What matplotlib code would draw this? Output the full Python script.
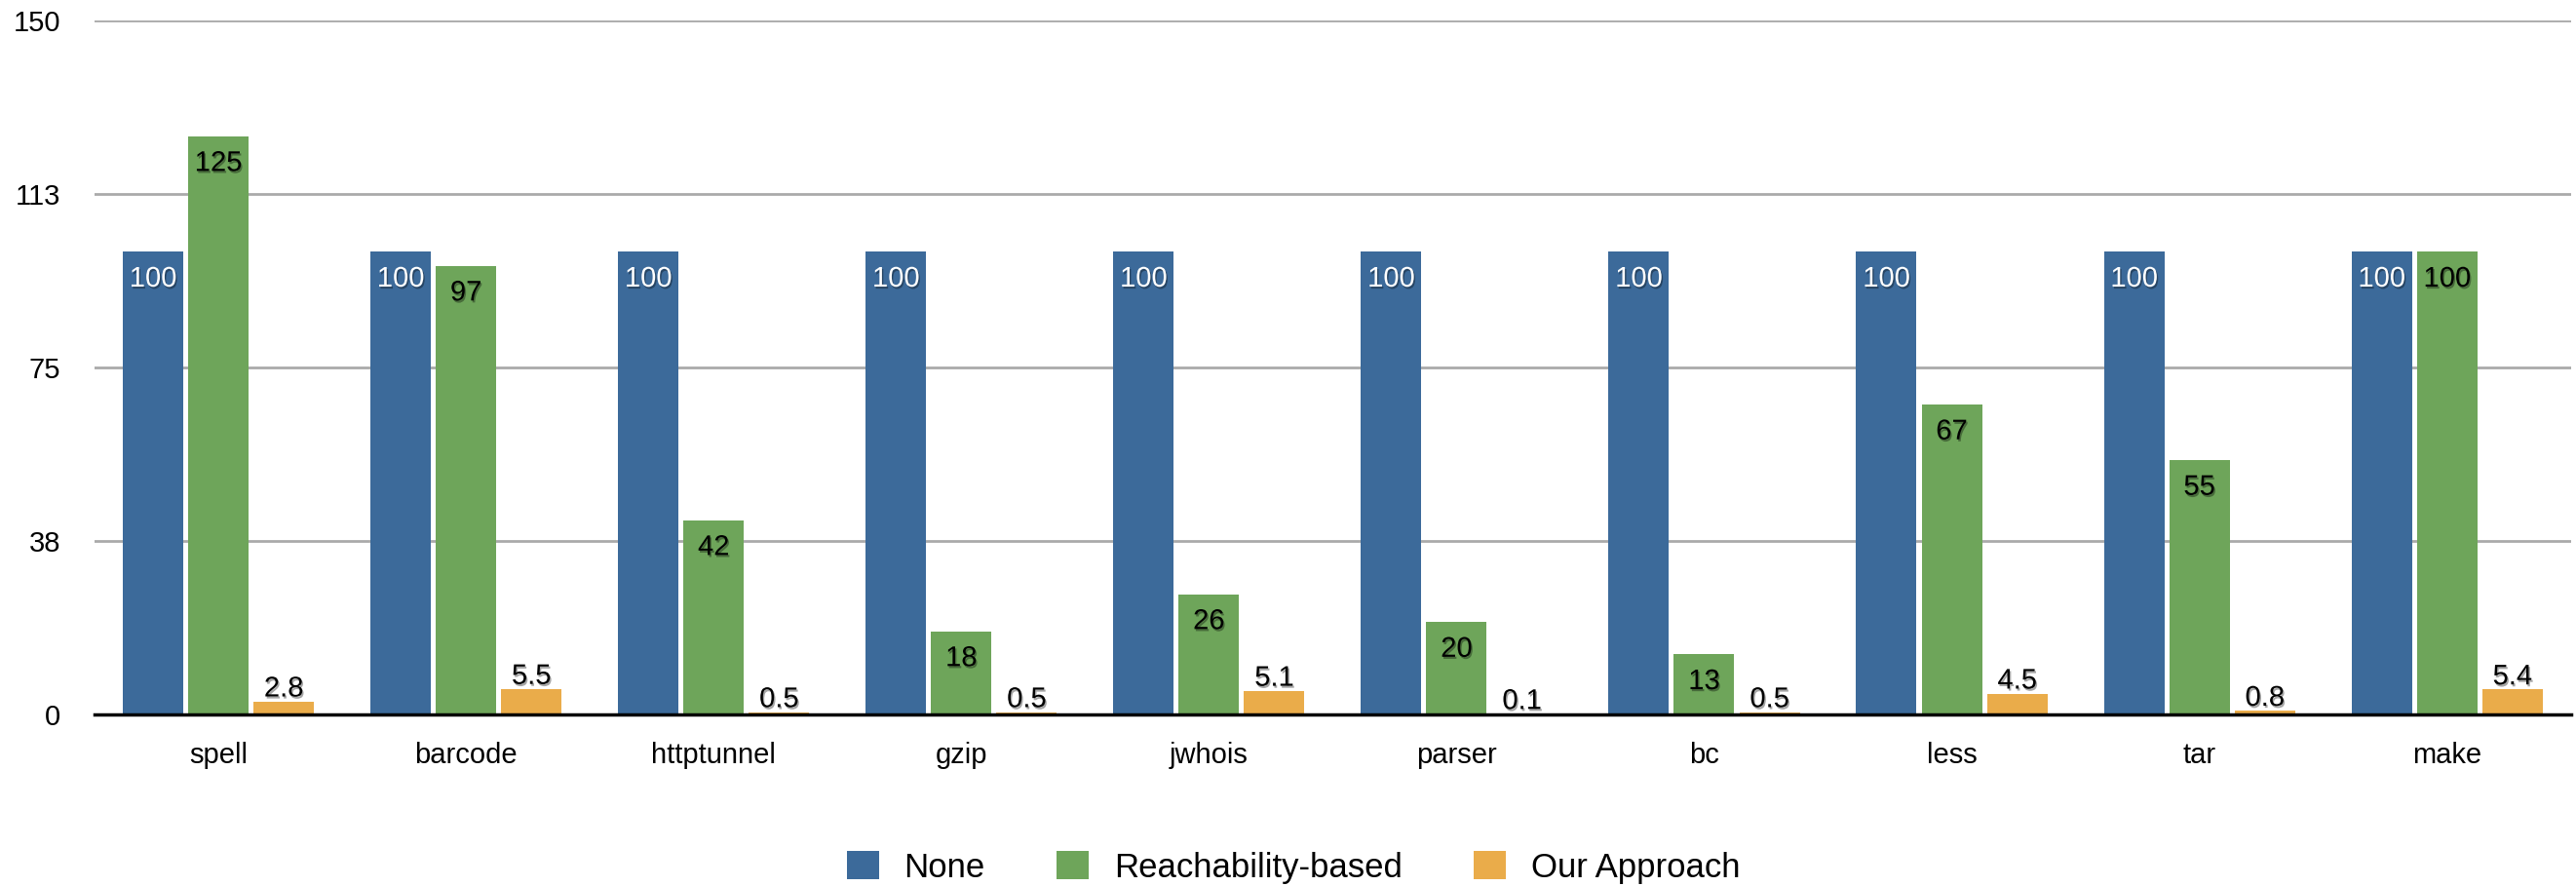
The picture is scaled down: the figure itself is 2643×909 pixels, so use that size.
import numpy as np
import matplotlib.pyplot as plt
import matplotlib.patheffects as pe

plt.rcParams['font.family'] = ['Liberation Sans', 'DejaVu Sans']

programs = ['spell', 'barcode', 'httptunnel', 'gzip', 'jwhois',
            'parser', 'bc', 'less', 'tar', 'make']
none_vals = [100, 100, 100, 100, 100, 100, 100, 100, 100, 100]
reach_vals = [125, 97, 42, 18, 26, 20, 13, 67, 55, 100]
ours_vals = [2.8, 5.5, 0.5, 0.5, 5.1, 0.1, 0.5, 4.5, 0.8, 5.4]
series_names = ['None', 'Reachability-based', 'Our Approach']
yticks = [0, 37.5, 75, 112.5, 150]
ytick_labels = ['0', '38', '75', '113', '150']

colors = ['#3c6a9a', '#6ea55a', '#eaac4a']
label_colors = ['white', 'black', 'black']

fig = plt.figure(figsize=(26.43, 9.09), dpi=100)
ax = fig.add_axes([0.0367, 0.1936, 0.9613, 0.7834])

x = np.arange(len(programs))
width = 0.244
step = 0.264
shadow = [pe.SimplePatchShadow(offset=(1, -1.5), shadow_rgbFace='black', alpha=0.35), pe.Normal()]

for i, (vals, name) in enumerate(zip([none_vals, reach_vals, ours_vals], series_names)):
    pos = x + (i - 1) * step
    bars = ax.bar(pos, vals, width, color=colors[i], label=name, zorder=3)
    for b, v in zip(bars, vals):
        txt = '{:g}'.format(v)
        cx = b.get_x() + b.get_width() / 2
        if i < 2:
            ax.annotate(txt, (cx, v), xytext=(0, -20), textcoords='offset points',
                        ha='center', va='center', fontsize=21, color=label_colors[i],
                        zorder=4, path_effects=shadow)
        else:
            ax.annotate(txt, (cx, v), xytext=(0, 9.5), textcoords='offset points',
                        ha='center', va='center', fontsize=21, color='black',
                        zorder=4, path_effects=shadow)

ax.set_xlim(-0.5, len(programs) - 0.5)
ax.set_ylim(0, 150)
ax.set_yticks(yticks)
ax.set_yticklabels(ytick_labels)
ax.set_xticks(x)
ax.set_xticklabels(programs)
ax.tick_params(axis='y', length=0, labelsize=21, pad=25)
ax.tick_params(axis='x', length=0, labelsize=21, pad=20)
ax.yaxis.grid(True, color='#aaaaaa', linewidth=2, zorder=0)
ax.set_axisbelow(True)
for s in ['top', 'right', 'left']:
    ax.spines[s].set_visible(False)
ax.spines['bottom'].set_linewidth(2.5)
ax.spines['bottom'].set_zorder(5)

fig.legend(loc='center', bbox_to_anchor=(0.502, 0.021), ncol=3, frameon=False,
           fontsize=25, handlelength=0.95, handleheight=0.92, handletextpad=0.75,
           columnspacing=2.1)

fig.savefig('out.png', dpi=100)
